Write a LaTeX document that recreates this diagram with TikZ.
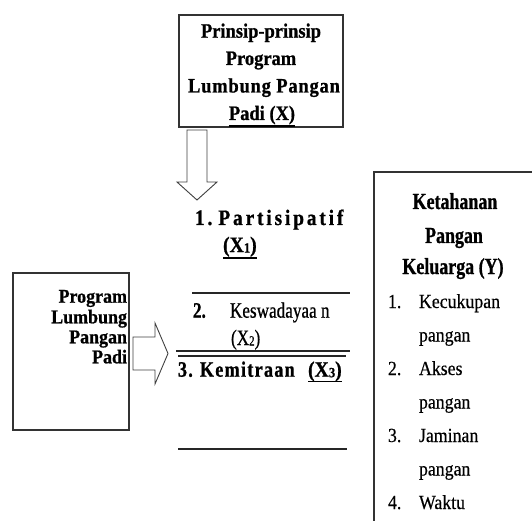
\documentclass[tikz,border=0pt]{standalone}
\usepackage{fontspec}
\setmainfont{Liberation Serif}
\newfontfamily\fTop[FakeStretch=0.9,FakeBold=0.8]{Liberation Serif}
\newfontfamily\fTopW[FakeStretch=0.9,LetterSpace=4,FakeBold=0.8]{Liberation Serif}
\newfontfamily\fLeft[FakeStretch=0.92,FakeBold=0.8]{Liberation Serif}
\newfontfamily\fHead[FakeStretch=0.78,FakeBold=0.8]{Liberation Serif}
\newfontfamily\fList[FakeStretch=0.89,FakeBold=0.4]{Liberation Serif}
\newfontfamily\fKes[FakeStretch=0.78,FakeBold=0.7]{Liberation Serif}
\newfontfamily\fPart[FakeStretch=0.88,LetterSpace=13,FakeBold=0.8]{Liberation Serif}
\newfontfamily\fKem[FakeStretch=0.82,LetterSpace=6,FakeBold=0.8]{Liberation Serif}
\usetikzlibrary{calc}
\newcommand{\smallsub}[1]{\raisebox{-0.5pt}{\fontsize{14}{14}\selectfont #1}}
\begin{document}
\begin{tikzpicture}[x=1pt,y=-1pt,
  txt/.style={inner sep=0pt, outer sep=0pt, anchor=base, text=black},
  boxnode/.style={draw=black!80, line width=1.2pt, inner sep=0pt, outer sep=0pt},
  blockarrow/.style={draw=black!75, line width=0.9pt, fill=white, line join=miter},
  sepline/.style={draw=black!85, line width=1.3pt},
  uline/.style={draw=black, line width=1.2pt},
  topf/.style={font=\fTop\bfseries\fontsize{20.5}{24}\selectfont},
  topw/.style={font=\fTopW\bfseries\fontsize{20.5}{24}\selectfont},
  leftf/.style={font=\fLeft\bfseries\fontsize{19.5}{22}\selectfont},
  headf/.style={font=\fHead\bfseries\fontsize{23}{26}\selectfont},
  listf/.style={font=\fList\fontsize{20}{24}\selectfont},
  partf/.style={font=\fPart\bfseries\fontsize{22}{26}\selectfont},
  kesf/.style={font=\fKes\fontsize{22}{26}\selectfont},
  kembf/.style={font=\fKes\bfseries\fontsize{22}{26}\selectfont},
  kemf/.style={font=\fKem\bfseries\fontsize{22}{26}\selectfont},
  xbf/.style={font=\fTop\bfseries\fontsize{22}{26}\selectfont}
]
\useasboundingbox (0,0) rectangle (532,521);
\clip (0,0) rectangle (532,521);

% boxes
\node[boxnode, minimum width=164pt, minimum height=112pt] (topbox) at (261,71) {};
\node[boxnode, minimum width=116pt, minimum height=157pt] (leftbox) at (71,351.5) {};
\node[boxnode, minimum width=171pt, minimum height=370pt] (rightbox) at (459.5,357) {};

% top box text
\node[txt, topf] (t1) at (261,37.7) {Prinsip-prinsip};
\node[txt, topf] (t2) at (261,65) {Program};
\node[txt, topw] (t3) at (264,92.5) {Lumbung Pangan};
\node[txt, topf] (t4) at (262,120) {Padi (X)};
\draw[uline] ($(t4.base west)+(0,6)$) -- ($(t4.base east)+(0,6)$);

% down arrow
\draw[blockarrow] (187,130) -- (207,130) -- (207,182) -- (217,182) -- (197,200)
  -- (177,182) -- (187,182) -- cycle;

% left box text
\node[txt, leftf, anchor=base east] (l1) at (127,302.7) {Program};
\node[txt, leftf, anchor=base east] (l2) at (127,323.3) {Lumbung};
\node[txt, leftf, anchor=base east] (l3) at (127,343.3) {Pangan};
\node[txt, leftf, anchor=base east] (l4) at (127,363.3) {Padi};

% right arrow
\draw[blockarrow] (133,337) -- (155,337) -- (155,323) -- (168,353.5) -- (155,384)
  -- (155,370) -- (133,370) -- cycle;

% middle list
\node[txt, partf, anchor=base west] (m1) at (195,225) {1.\hspace{6pt}Partisipatif};
\node[txt, xbf, anchor=base west] (m1x) at (223,252) {(X\smallsub{1})};
\draw[uline] ($(m1x.base west)+(0,6)$) -- ($(m1x.base east)+(0,6)$);

\coordinate (s1a) at (192,293);
\coordinate (s1b) at (350,293);
\draw[sepline] (s1a) -- (s1b);

\node[txt, kembf, anchor=base west] (m2n) at (193,317.7) {2.};
\node[txt, kesf, anchor=base west] (m2) at (230,317.7) {Keswadayaa n};
\node[txt, kesf, anchor=base west] (m2x) at (231,345) {(X\smallsub{2})};

\coordinate (s2a) at (176,351);
\coordinate (s2b) at (350,351);
\draw[sepline] (s2a) -- (s2b);
\coordinate (s3a) at (178,356);
\coordinate (s3b) at (346,356);
\draw[sepline] (s3a) -- (s3b);

\node[txt, kemf, anchor=base west] (m3n) at (178,376.7) {3.};
\node[txt, kemf, anchor=base west] (m3) at (200,376.7) {Kemitraan};
\node[txt, xbf, anchor=base west] (m3x) at (308,376.7) {(X\smallsub{3})};
\draw[uline] ($(m3x.base west)+(0,5)$) -- ($(m3x.base east)+(0,5)$);

\coordinate (s4a) at (178,449);
\coordinate (s4b) at (347,449);
\draw[sepline] (s4a) -- (s4b);

% right box text
\node[txt, headf] (h1) at (455,209) {Ketahanan};
\node[txt, headf] (h2) at (454,243) {Pangan};
\node[txt, headf] (h3) at (453,274) {Keluarga (Y)};

\node[txt, listf, anchor=base west] (n1) at (388,308) {1.};
\node[txt, listf, anchor=base west] (i1) at (419,308) {Kecukupan};
\node[txt, listf, anchor=base west] (i1b) at (419,341.5) {pangan};
\node[txt, listf, anchor=base west] (n2) at (388,375) {2.};
\node[txt, listf, anchor=base west] (i2) at (419,375) {Akses};
\node[txt, listf, anchor=base west] (i2b) at (419,408.5) {pangan};
\node[txt, listf, anchor=base west] (n3) at (388,442) {3.};
\node[txt, listf, anchor=base west] (i3) at (419,442) {Jaminan};
\node[txt, listf, anchor=base west] (i3b) at (419,475.5) {pangan};
\node[txt, listf, anchor=base west] (n4) at (388,509) {4.};
\node[txt, listf, anchor=base west] (i4) at (419,509) {Waktu};
\end{tikzpicture}
\end{document}
